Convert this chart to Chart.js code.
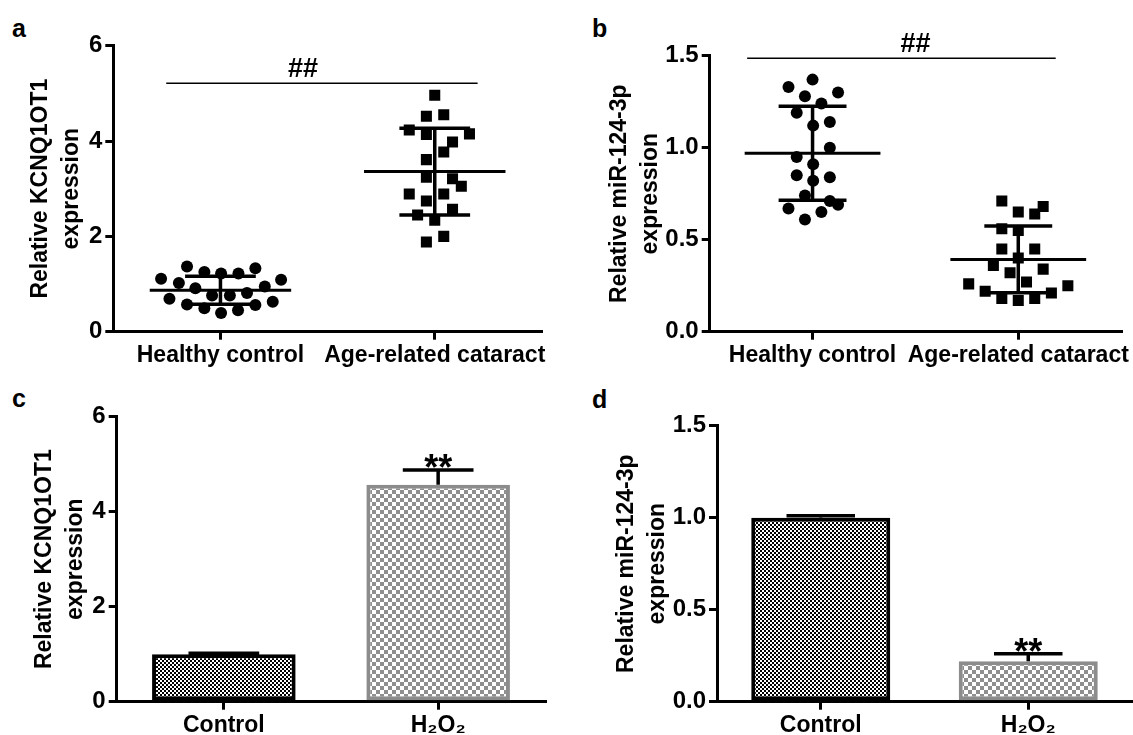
<!DOCTYPE html>
<html>
<head>
<meta charset="utf-8">
<script src="https://cdn.jsdelivr.net/npm/chart.js@4.4.1/dist/chart.umd.min.js"></script>
<style>
  body { margin: 0; background: #fff; width: 1133px; height: 735px; position: relative; overflow: hidden;
         font-family: "Liberation Sans", Arial, sans-serif; }
  canvas { position: absolute; }
  .letter { position: absolute; font-weight: bold; font-size: 25px; line-height: 24px; }
</style>
</head>
<body>
<div class="letter" style="left:12px;top:16px">a</div>
<div class="letter" style="left:592px;top:16px">b</div>
<div class="letter" style="left:12px;top:386px">c</div>
<div class="letter" style="left:592px;top:387px">d</div>

<canvas id="chartA" width="560" height="372" style="left:0;top:0"></canvas>
<canvas id="chartB" width="573" height="372" style="left:560px;top:0"></canvas>
<canvas id="chartC" width="560" height="365" style="left:0;top:370px"></canvas>
<canvas id="chartD" width="573" height="365" style="left:560px;top:370px"></canvas>

<script>
const groupLabels = ['Healthy control', 'Age-related cataract'];
const cellLabels = ['Control', 'H\u2082O\u2082'];

const kcnqTicks = [0, 2, 4, 6];
const mirTicks = [0, 0.5, 1.0, 1.5];

// a: KCNQ1OT1 in lens tissue (jitter = horizontal offset from the group centre)
const kcnqHealthy = [1.37, 1.25, 1.22, 1.22, 1.33, 1.11, 1.02, 0.91, 1.09, 0.95, 0.81, 0.76, 0.76, 0.69, 0.57, 0.49, 0.39, 0.45, 0.56, 0.63];
const kcnqHealthyJitter = [-0.156, -0.075, 0.003, 0.084, 0.163, -0.277, -0.194, -0.117, 0.283, 0.207, 0.124, -0.039, 0.044, -0.238, -0.156, -0.075, 0.003, 0.082, 0.163, 0.244];
const kcnqCataract = [4.96, 4.52, 4.55, 4.23, 4.14, 4.15, 3.98, 3.77, 3.61, 3.24, 3.21, 3.05, 2.89, 2.89, 2.74, 2.57, 2.45, 2.34, 2.00, 1.88];
const kcnqCataractJitter = [0, -0.039, 0.042, -0.119, -0.039, 0.162, 0.083, 0.042, -0.039, -0.039, 0.083, 0.124, -0.119, 0.042, -0.039, 0.083, -0.08, 0, 0.042, -0.039];
const kcnqMean = [0.87, 3.36];
const kcnqSd = [0.295, 0.91];
const kcnqSig = 5.21;

// b: miR-124-3p in lens tissue
const mirHealthy = [1.37, 1.33, 1.30, 1.28, 1.24, 1.19, 1.12, 1.14, 1.00, 0.95, 0.91, 0.85, 0.84, 0.82, 0.74, 0.71, 0.69, 0.67, 0.65, 0.61];
const mirHealthyJitter = [0, -0.117, 0.124, -0.037, 0.043, -0.077, 0.003, 0.084, 0.084, -0.077, 0.003, -0.077, 0.084, 0.003, -0.037, 0.084, 0.124, -0.117, 0.043, -0.037];
const mirCataract = [0.71, 0.65, 0.64, 0.68, 0.56, 0.55, 0.45, 0.45, 0.40, 0.36, 0.34, 0.32, 0.27, 0.26, 0.25, 0.22, 0.21, 0.18, 0.17, 0.18];
const mirCataractJitter = [-0.08, 0, 0.08, 0.121, -0.08, 0, -0.08, 0.08, 0, -0.121, 0.121, -0.04, 0.04, -0.241, 0.241, -0.161, 0.161, -0.08, 0, 0.08];
const mirMean = [0.97, 0.393];
const mirSd = [0.255, 0.181];
const mirSig = 1.486;

// c, d: lens epithelial cells, mean and upper SD
const kcnqCells = [1.0, 4.57];
const kcnqCellsErr = [0.02, 0.31];
const mirCells = [1.0, 0.22];
const mirCellsErr = [0.01, 0.04];

const family = '"Liberation Sans", Arial, sans-serif';
Chart.defaults.font.family = family;
Chart.defaults.color = '#000';

function checker(cell, color) {
  const c = document.createElement('canvas');
  c.width = c.height = cell * 2;
  const g = c.getContext('2d');
  g.fillStyle = '#fff';
  g.fillRect(0, 0, cell * 2, cell * 2);
  g.fillStyle = color;
  g.fillRect(0, 0, cell, cell);
  g.fillRect(cell, cell, cell, cell);
  return g.createPattern(c, 'repeat');
}

// error bars and significance marks, placed through the chart scales
const marksPlugin = {
  id: 'marks',
  afterDatasetsDraw(chart, args, opts) {
    const ctx = chart.ctx, xs = chart.scales.x, ys = chart.scales.y;
    ctx.save();
    (opts.bars || []).forEach(b => {
      const x = xs.getPixelForValue(b.x);
      const top = ys.getPixelForValue(b.top);
      ctx.strokeStyle = '#000';
      ctx.lineWidth = 3.5;
      ctx.lineCap = 'butt';
      ctx.beginPath();
      ctx.moveTo(x, ys.getPixelForValue(b.from));
      ctx.lineTo(x, top);
      ctx.moveTo(xs.getPixelForValue(b.x - b.cap), top);
      ctx.lineTo(xs.getPixelForValue(b.x + b.cap), top);
      ctx.stroke();
    });
    (opts.texts || []).forEach(t => {
      ctx.font = 'bold ' + t.size + 'px ' + family;
      ctx.fillStyle = '#000';
      ctx.textAlign = 'center';
      ctx.textBaseline = 'alphabetic';
      const m = ctx.measureText(t.text);
      const bottom = ys.getPixelForValue(t.y) - t.gap;
      ctx.fillText(t.text, xs.getPixelForValue(t.x), bottom - m.actualBoundingBoxDescent);
    });
    ctx.restore();
  }
};
Chart.register(marksPlugin);

function yAxis(max, ticks, dec, title, width) {
  return {
    min: 0, max: max,
    afterBuildTicks: s => { s.ticks = ticks.map(v => ({ value: v })); },
    afterFit: s => { s.width = width; },
    ticks: { callback: v => v.toFixed(dec), font: { size: 24, weight: 'bold' }, padding: 3, color: '#000' },
    grid: { drawOnChartArea: false, color: '#000', lineWidth: 3, tickLength: 8 },
    border: { color: '#000', width: 3 },
    title: { display: true, text: title, color: '#000', padding: 0, font: { size: 23, weight: 'bold', lineHeight: 1.36 } }
  };
}

function xAxisStyle(height, pad) {
  return {
    afterFit: s => { s.height = height; },
    ticks: { font: { size: 23, weight: 'bold' }, padding: pad, color: '#000', maxRotation: 0, autoSkip: false },
    grid: { drawOnChartArea: false, offset: false, color: '#000', lineWidth: 3, tickLength: 8 },
    border: { color: '#000', width: 3 }
  };
}

function seg(x0, x1, y0, y1, w) {
  return { data: [{ x: x0, y: y0 }, { x: x1, y: y1 }], showLine: true, pointRadius: 0,
           borderColor: '#000', borderWidth: w, borderCapStyle: 'butt' };
}

function summary(centre, mean, sd) {
  return [
    seg(centre - 0.33, centre + 0.33, mean, mean, 3),
    seg(centre, centre, mean - sd, mean + sd, 3.5),
    seg(centre - 0.165, centre + 0.165, mean + sd, mean + sd, 3.5),
    seg(centre - 0.165, centre + 0.165, mean - sd, mean - sd, 3.5)
  ];
}

function dots(values, jitter, centre, style, r) {
  return { data: values.map((v, i) => ({ x: centre + jitter[i], y: v })), pointStyle: style, pointRadius: r,
           backgroundColor: '#000', borderWidth: 0, showLine: false };
}

function scatterPanel(id, o) {
  const xAxis = Object.assign(xAxisStyle(o.xHeight, 2), {
    type: 'linear', min: -0.5, max: 1.5,
    afterBuildTicks: s => { s.ticks = [{ value: 0 }, { value: 1 }]; }
  });
  xAxis.ticks.callback = (v, i) => groupLabels[i];
  new Chart(document.getElementById(id), {
    type: 'scatter',
    data: {
      datasets: [
        dots(o.healthy, o.healthyJitter, 0, 'circle', 6),
        dots(o.cataract, o.cataractJitter, 1, 'rect', 7.8),
        ...summary(0, o.mean[0], o.sd[0]),
        ...summary(1, o.mean[1], o.sd[1]),
        seg(o.sigFrom, o.sigTo, o.sig, o.sig, 1.5)
      ]
    },
    options: {
      responsive: false, animation: false,
      layout: { padding: o.padding },
      plugins: { legend: { display: false }, tooltip: { enabled: false },
                 marks: { texts: [{ x: o.sigText, y: o.sig, text: '##', size: 27, gap: 6 }] } },
      scales: { x: xAxis, y: yAxis(o.max, o.ticks, o.dec, o.title, o.yWidth) }
    }
  });
}

function barPanel(id, o) {
  new Chart(document.getElementById(id), {
    type: 'bar',
    data: {
      labels: cellLabels,
      datasets: [{
        data: o.values,
        backgroundColor: [checker(2, '#000'), checker(4, '#8f8f8f')],
        borderColor: ['#000', '#8c8c8c'],
        borderWidth: 4, borderSkipped: false,
        barPercentage: 0.67, categoryPercentage: 1
      }]
    },
    options: {
      responsive: false, animation: false,
      layout: { padding: o.padding },
      plugins: {
        legend: { display: false }, tooltip: { enabled: false },
        marks: {
          bars: o.values.map((v, i) => ({ x: i, from: v, top: v + o.err[i], cap: 0.165 })),
          texts: [{ x: 1, y: o.values[1] + o.err[1], text: '**', size: 36, gap: 2 }]
        }
      },
      scales: { x: xAxisStyle(o.xHeight, 2), y: yAxis(o.max, o.ticks, o.dec, o.title, o.yWidth) }
    }
  });
}

scatterPanel('chartA', {
  healthy: kcnqHealthy, healthyJitter: kcnqHealthyJitter,
  cataract: kcnqCataract, cataractJitter: kcnqCataractJitter,
  mean: kcnqMean, sd: kcnqSd, sig: kcnqSig, sigFrom: -0.253, sigTo: 1.2, sigText: 0.385,
  max: 6, ticks: kcnqTicks, dec: 0, title: ['Relative KCNQ1OT1', 'expression'],
  padding: { left: 25, top: 45.7, right: 18.1, bottom: 0 }, yWidth: 88.3, xHeight: 40.3
});

scatterPanel('chartB', {
  healthy: mirHealthy, healthyJitter: mirHealthyJitter,
  cataract: mirCataract, cataractJitter: mirCataractJitter,
  mean: mirMean, sd: mirSd, sig: mirSig, sigFrom: -0.318, sigTo: 1.182, sigText: 0.5,
  max: 1.5, ticks: mirTicks, dec: 1, title: ['Relative miR-124-3p', 'expression'],
  padding: { left: 44, top: 55.7, right: 8.6, bottom: 0 }, yWidth: 105.7, xHeight: 40.3
});

barPanel('chartC', {
  values: kcnqCells, err: kcnqCellsErr,
  max: 6, ticks: kcnqTicks, dec: 0, title: ['Relative KCNQ1OT1', 'expression'],
  padding: { left: 29, top: 46.7, right: 14.7, bottom: 0 }, yWidth: 87.7, xHeight: 33.3
});

barPanel('chartD', {
  values: mirCells, err: mirCellsErr,
  max: 1.5, ticks: mirTicks, dec: 1, title: ['Relative miR-124-3p', 'expression'],
  padding: { left: 51, top: 55.7, right: 1, bottom: 0 }, yWidth: 106, xHeight: 33.3
});
</script>
</body>
</html>
